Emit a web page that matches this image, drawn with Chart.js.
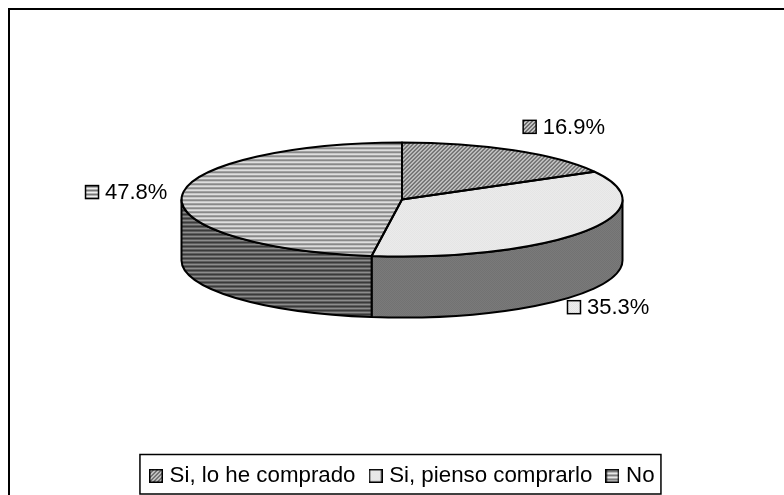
<!DOCTYPE html>
<html>
<head>
<meta charset="utf-8">
<title>Pie</title>
<script src="https://cdn.jsdelivr.net/npm/chart.js@4"></script>
<style>
  html, body { margin: 0; padding: 0; background: #fff; }
  #wrap { width: 784px; height: 495px; }
</style>
</head>
<body>
<div id="wrap"><canvas id="chart"></canvas></div>
<script>
const categories = ["Si, lo he comprado", "Si, pienso comprarlo", "No"];
const percents = [16.9, 35.3, 47.8];
const percentLabels = ["16.9%", "35.3%", "47.8%"];

// look of the fake 3D disc
const centerX = 402, centerY = 199.5;
const radiusX = 220.5, squash = 0.2585, depth = 61;
const fontName = "'Liberation Sans', Arial, sans-serif";

// label anchors, relative to the middle of each slice on the rim
const labelOffsets = [[9, -23.5], [-17, 75.5], [-97, -3.5]];

// 1 px tile -> canvas pattern
function tile(rows) {
  const c = document.createElement("canvas");
  c.height = rows.length;
  c.width = rows[0].length;
  const g = c.getContext("2d");
  rows.forEach((row, y) => row.forEach((col, x) => {
    g.fillStyle = col;
    g.fillRect(x, y, 1, 1);
  }));
  return g.createPattern(c, "repeat");
}

function stripes(a, b, m) {
  return () => tile([[a], [m], [b], [m]]);
}
function diagonal(a, b) {
  return () => tile([[a, a, b, b], [a, b, b, a], [b, b, a, a], [b, a, a, b]]);
}
function dots(a, b) {
  return () => tile([[a, b], [b, a]]);
}

const topFills = [diagonal("#6f6f6f", "#c4c4c4"), dots("#e2e2e2", "#eeeeee"), stripes("#f0f0f0", "#767676", "#b4b4b4")];
const wallFills = [diagonal("#3a3a3a", "#666666"), dots("#727272", "#7a7a7a"), stripes("#8c8c8c", "#3a3a3a", "#5e5e5e")];

// patterns used inside the squashed transform have to be stretched back
const pieFills = topFills.map(make => {
  const p = make();
  p.setTransform(new DOMMatrix().scale(1, 1 / squash));
  return p;
});
const legendFills = topFills.map(make => make());

// little square key, used by the legend as its point style
function swatch(fill) {
  const c = document.createElement("canvas");
  c.width = 14;
  c.height = 14;
  const g = c.getContext("2d");
  g.fillStyle = fill;
  g.fillRect(0, 0, 14, 14);
  g.strokeStyle = "#000";
  g.lineWidth = 1.5;
  g.strokeRect(0.75, 0.75, 12.5, 12.5);
  return c;
}

function enterDisc(ctx, arc, dy) {
  ctx.translate(centerX, centerY + dy);
  ctx.scale(1, squash);
  ctx.translate(-arc.x, -arc.y);
}

const disc3d = {
  id: "disc3d",
  beforeDatasetsDraw(chart) {
    const ctx = chart.ctx;
    const arcs = chart.getDatasetMeta(0).data;
    // side wall: only the part of each slice that faces front
    arcs.forEach((arc, i) => {
      const from = Math.max(arc.startAngle, 0);
      const to = Math.min(arc.endAngle, Math.PI);
      if (to <= from) return;
      const rimY = a => centerY + Math.sin(a) * radiusX * squash;
      const rimX = a => centerX + Math.cos(a) * radiusX;
      ctx.save();
      ctx.beginPath();
      ctx.ellipse(centerX, centerY, radiusX, radiusX * squash, 0, from, to);
      ctx.lineTo(rimX(to), rimY(to) + depth);
      ctx.ellipse(centerX, centerY + depth, radiusX, radiusX * squash, 0, to, from, true);
      ctx.closePath();
      ctx.fillStyle = wallFills[i]();
      ctx.fill();
      ctx.lineWidth = 2;
      ctx.strokeStyle = "#000";
      ctx.stroke();
      ctx.restore();
    });
    ctx.save();
    enterDisc(ctx, arcs[0], 0);
  },
  afterDatasetsDraw(chart) {
    const ctx = chart.ctx;
    ctx.restore();
    const arcs = chart.getDatasetMeta(0).data;
    // outlines are built squashed but stroked flat so the pen stays even
    arcs.forEach(arc => {
      ctx.save();
      ctx.save();
      enterDisc(ctx, arc, 0);
      ctx.beginPath();
      ctx.moveTo(arc.x, arc.y);
      ctx.arc(arc.x, arc.y, arc.outerRadius, arc.startAngle, arc.endAngle);
      ctx.closePath();
      ctx.restore();
      ctx.lineWidth = 2;
      ctx.strokeStyle = "#000";
      ctx.lineJoin = "round";
      ctx.stroke();
      ctx.restore();
    });

    // value labels
    ctx.save();
    ctx.font = "22px " + fontName;
    ctx.textBaseline = "middle";
    ctx.textAlign = "left";
    arcs.forEach((arc, i) => {
      const mid = (arc.startAngle + arc.endAngle) / 2;
      const x = centerX + Math.cos(mid) * radiusX + labelOffsets[i][0];
      const y = centerY + Math.sin(mid) * radiusX * squash + labelOffsets[i][1];
      ctx.fillStyle = legendFills[i];
      ctx.strokeStyle = "#000";
      ctx.lineWidth = 1.5;
      ctx.fillRect(x + 0.5, y - 6.5, 13, 13);
      ctx.strokeRect(x + 0.5, y - 6.5, 13, 13);
      ctx.fillStyle = "#000";
      ctx.fillText(percentLabels[i], x + 20, y + 1);
    });
    ctx.restore();

    // legend box and the outer frame
    ctx.save();
    ctx.strokeStyle = "#000";
    ctx.lineWidth = 1.5;
    const boxes = chart.legend.legendHitBoxes;
    const first = boxes[0];
    ctx.strokeRect(first.left - 13.5, 454.5, 521, 39.5);
    ctx.lineWidth = 2;
    ctx.beginPath();
    ctx.moveTo(9, 495);
    ctx.lineTo(9, 9);
    ctx.lineTo(784, 9);
    ctx.stroke();
    ctx.restore();
  }
};

new Chart(document.getElementById("chart"), {
  type: "pie",
  data: {
    labels: categories,
    datasets: [{
      data: percents,
      backgroundColor: pieFills,
      borderWidth: 0,
      clip: false
    }]
  },
  options: {
    responsive: true,
    maintainAspectRatio: false,
    animation: false,
    radius: radiusX,
    layout: { padding: { left: 24, bottom: -2 } },
    plugins: {
      tooltip: { enabled: false },
      legend: {
        position: "bottom",
        labels: {
          color: "#000",
          font: { family: fontName, size: 22.3 },
          usePointStyle: true,
          pointStyleWidth: 5,
          padding: 17.5,
          generateLabels: () => categories.map((name, i) => ({
            text: name,
            fillStyle: legendFills[i],
            strokeStyle: "#000",
            lineWidth: 1,
            pointStyle: swatch(legendFills[i]),
            index: i
          }))
        }
      }
    }
  },
  plugins: [disc3d]
});
</script>
</body>
</html>
